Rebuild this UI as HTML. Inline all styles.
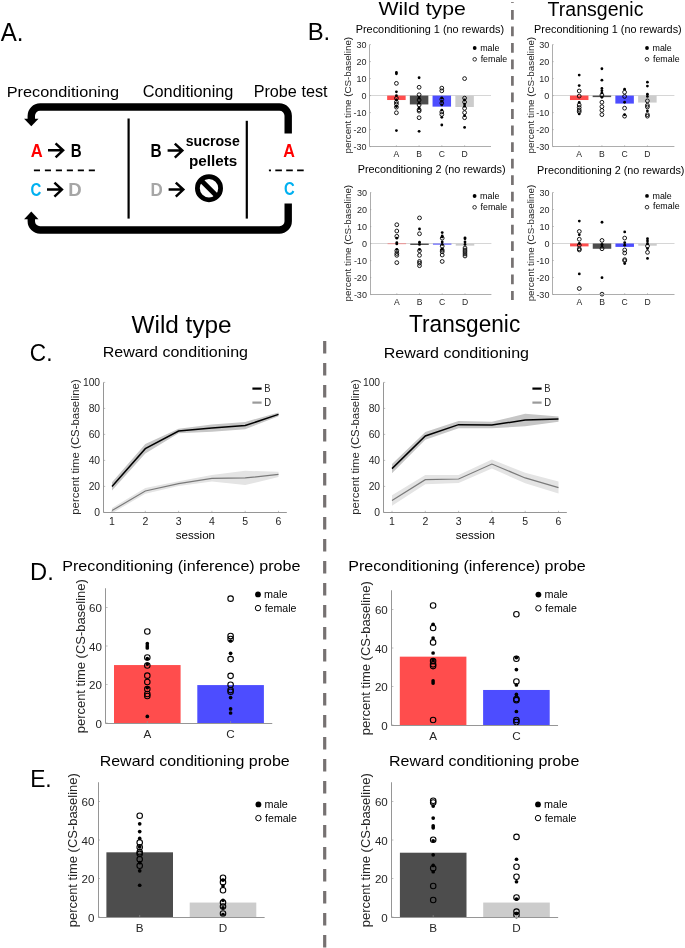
<!DOCTYPE html>
<html><head><meta charset="utf-8"><style>
html,body{margin:0;padding:0;background:#fff;}
svg{display:block;will-change:transform;font-family:"Liberation Sans", sans-serif;}
</style></head><body>
<svg width="685" height="948" viewBox="0 0 685 948">
<rect width="685" height="948" fill="#fff"/>
<text x="0.65" y="40.70" font-size="24.85" fill="#000" textLength="22.75" lengthAdjust="spacingAndGlyphs">A.</text>
<text x="307.64" y="40.00" font-size="23.84" fill="#000" textLength="22.53" lengthAdjust="spacingAndGlyphs">B.</text>
<text x="29.85" y="361.00" font-size="23.55" fill="#000" textLength="22.61" lengthAdjust="spacingAndGlyphs">C.</text>
<text x="30.06" y="579.60" font-size="24.13" fill="#000" textLength="23.71" lengthAdjust="spacingAndGlyphs">D.</text>
<text x="30.13" y="787.00" font-size="24.13" fill="#000" textLength="21.55" lengthAdjust="spacingAndGlyphs">E.</text>
<text x="378.41" y="15.30" font-size="19.04" fill="#000" textLength="87.44" lengthAdjust="spacingAndGlyphs">Wild type</text>
<text x="547.56" y="15.50" font-size="19.33" fill="#000" textLength="95.95" lengthAdjust="spacingAndGlyphs">Transgenic</text>
<text x="131.49" y="333.20" font-size="23.55" fill="#000" textLength="100.19" lengthAdjust="spacingAndGlyphs">Wild type</text>
<text x="409.10" y="332.20" font-size="23.55" fill="#000" textLength="111.10" lengthAdjust="spacingAndGlyphs">Transgenic</text>
<text x="6.66" y="97.00" font-size="15.41" fill="#000" textLength="112.39" lengthAdjust="spacingAndGlyphs">Preconditioning</text>
<text x="142.77" y="97.00" font-size="15.70" fill="#000" textLength="90.68" lengthAdjust="spacingAndGlyphs">Conditioning</text>
<text x="253.67" y="97.00" font-size="15.70" fill="#000" textLength="73.85" lengthAdjust="spacingAndGlyphs">Probe test</text>
<path d="M288.2 133.6 V115.8 A8.8 8.8 0 0 0 279.4 107 H40.1 A8.8 8.8 0 0 0 31.3 115.8 V119.2" fill="none" stroke="#000" stroke-width="7.4"/>
<polygon points="24.1,118.8 38.5,118.8 31.3,126.2" fill="#000"/>
<path d="M288.2 203.6 V221.2 A8.8 8.8 0 0 1 279.4 230 H40.1 A8.8 8.8 0 0 1 31.3 221.2 V218.6" fill="none" stroke="#000" stroke-width="7.4"/>
<polygon points="24.1,219.2 38.5,219.2 31.3,211.6" fill="#000"/>
<line x1="128.6" y1="118.5" x2="128.6" y2="218.6" stroke="#000" stroke-width="2.2"/>
<line x1="246.8" y1="120.8" x2="246.8" y2="218.6" stroke="#000" stroke-width="2.2"/>
<line x1="33.9" y1="170.4" x2="95.2" y2="170.4" stroke="#000" stroke-width="1.8" stroke-dasharray="6.1 4.88"/>
<line x1="268.9" y1="170.4" x2="271" y2="170.4" stroke="#000" stroke-width="1.8"/>
<line x1="275.3" y1="170.4" x2="304" y2="170.4" stroke="#000" stroke-width="1.8" stroke-dasharray="6.6 4.3"/>
<text x="30.69" y="157.20" font-size="17.73" font-weight="bold" fill="#ff0000" textLength="11.95" lengthAdjust="spacingAndGlyphs">A</text>
<text x="70.79" y="157.20" font-size="17.73" font-weight="bold" fill="#000" textLength="10.89" lengthAdjust="spacingAndGlyphs">B</text>
<text x="30.59" y="195.60" font-size="17.73" font-weight="bold" fill="#00b0f0" textLength="10.82" lengthAdjust="spacingAndGlyphs">C</text>
<text x="68.36" y="195.60" font-size="17.73" font-weight="bold" fill="#a6a6a6" textLength="13.42" lengthAdjust="spacingAndGlyphs">D</text>
<text x="150.57" y="157.20" font-size="17.73" font-weight="bold" fill="#000" textLength="11.13" lengthAdjust="spacingAndGlyphs">B</text>
<text x="150.47" y="195.60" font-size="17.73" font-weight="bold" fill="#a6a6a6" textLength="12.25" lengthAdjust="spacingAndGlyphs">D</text>
<text x="283.20" y="157.20" font-size="17.73" font-weight="bold" fill="#ff0000" textLength="11.63" lengthAdjust="spacingAndGlyphs">A</text>
<text x="283.89" y="195.40" font-size="17.73" font-weight="bold" fill="#00b0f0" textLength="10.71" lengthAdjust="spacingAndGlyphs">C</text>
<text x="185.70" y="145.70" font-size="15.20" font-weight="bold" fill="#000" textLength="54.08" lengthAdjust="spacingAndGlyphs">sucrose</text>
<text x="188.99" y="165.60" font-size="15.20" font-weight="bold" fill="#000" textLength="48.33" lengthAdjust="spacingAndGlyphs">pellets</text>
<path d="M48 150.3 H62.8 M55.599999999999994 143.3 L63.099999999999994 150.3 L55.599999999999994 157.3" fill="none" stroke="#000" stroke-width="2.5"/>
<path d="M47 189.6 H61.6 M54.400000000000006 182.6 L61.9 189.6 L54.400000000000006 196.6" fill="none" stroke="#000" stroke-width="2.5"/>
<path d="M167.6 150.6 H182 M174.8 143.6 L182.3 150.6 L174.8 157.6" fill="none" stroke="#000" stroke-width="2.5"/>
<path d="M168.6 189.6 H183 M175.8 182.6 L183.3 189.6 L175.8 196.6" fill="none" stroke="#000" stroke-width="2.5"/>
<circle cx="209" cy="188.2" r="11.6" fill="none" stroke="#000" stroke-width="4.8"/>
<line x1="201" y1="180.2" x2="217" y2="196.2" stroke="#000" stroke-width="4.8"/>
<line x1="512.4" y1="9.9" x2="512.4" y2="300" stroke="#767171" stroke-width="2.7" stroke-dasharray="9.8 6.73"/>
<line x1="512.4" y1="2.0" x2="512.4" y2="3.0" stroke="#8a8585" stroke-width="2.7"/>
<line x1="324.7" y1="340.9" x2="324.7" y2="948" stroke="#767171" stroke-width="3.2" stroke-dasharray="12.6 9.4"/>
<line x1="369.6" y1="95.5" x2="491" y2="95.5" stroke="#d6d6d6" stroke-width="1"/>
<rect x="387.15" y="95.60" width="18.5" height="4.42" fill="#ff4d4d"/>
<rect x="409.85" y="95.60" width="18.5" height="8.84" fill="#4d4d4d"/>
<rect x="432.55" y="95.60" width="18.5" height="11.05" fill="#4d4dff"/>
<rect x="455.35" y="95.60" width="18.5" height="11.39" fill="#cccccc"/>
<circle cx="396.40" cy="72.48" r="1.4" fill="#000"/>
<circle cx="396.40" cy="73.84" r="1.4" fill="#000"/>
<circle cx="396.40" cy="83.36" r="1.9" fill="none" stroke="#000" stroke-width="0.9"/>
<circle cx="396.40" cy="91.86" r="1.4" fill="#000"/>
<circle cx="396.40" cy="95.60" r="1.4" fill="#000"/>
<circle cx="396.40" cy="98.32" r="1.9" fill="none" stroke="#000" stroke-width="0.9"/>
<circle cx="396.40" cy="100.02" r="1.4" fill="#000"/>
<circle cx="396.40" cy="102.06" r="1.9" fill="none" stroke="#000" stroke-width="0.9"/>
<circle cx="396.40" cy="104.10" r="1.9" fill="none" stroke="#000" stroke-width="0.9"/>
<circle cx="396.40" cy="106.48" r="1.4" fill="#000"/>
<circle cx="396.40" cy="107.16" r="1.9" fill="none" stroke="#000" stroke-width="0.9"/>
<circle cx="396.40" cy="112.77" r="1.9" fill="none" stroke="#000" stroke-width="0.9"/>
<circle cx="396.40" cy="130.62" r="1.4" fill="#000"/>
<circle cx="419.10" cy="77.75" r="1.4" fill="#000"/>
<circle cx="419.10" cy="87.27" r="1.9" fill="none" stroke="#000" stroke-width="0.9"/>
<circle cx="419.10" cy="94.75" r="1.9" fill="none" stroke="#000" stroke-width="0.9"/>
<circle cx="419.10" cy="97.98" r="1.4" fill="#000"/>
<circle cx="419.10" cy="100.02" r="1.9" fill="none" stroke="#000" stroke-width="0.9"/>
<circle cx="419.10" cy="103.08" r="1.4" fill="#000"/>
<circle cx="419.10" cy="104.95" r="1.9" fill="none" stroke="#000" stroke-width="0.9"/>
<circle cx="419.10" cy="108.01" r="1.4" fill="#000"/>
<circle cx="419.10" cy="109.71" r="1.9" fill="none" stroke="#000" stroke-width="0.9"/>
<circle cx="419.10" cy="111.07" r="1.9" fill="none" stroke="#000" stroke-width="0.9"/>
<circle cx="419.10" cy="117.70" r="1.9" fill="none" stroke="#000" stroke-width="0.9"/>
<circle cx="419.10" cy="131.30" r="1.4" fill="#000"/>
<circle cx="441.80" cy="88.12" r="1.9" fill="none" stroke="#000" stroke-width="0.9"/>
<circle cx="441.80" cy="90.84" r="1.9" fill="none" stroke="#000" stroke-width="0.9"/>
<circle cx="441.80" cy="97.98" r="1.4" fill="#000"/>
<circle cx="441.80" cy="99.34" r="1.9" fill="none" stroke="#000" stroke-width="0.9"/>
<circle cx="441.80" cy="101.38" r="1.4" fill="#000"/>
<circle cx="441.80" cy="103.08" r="1.9" fill="none" stroke="#000" stroke-width="0.9"/>
<circle cx="441.80" cy="104.95" r="1.4" fill="#000"/>
<circle cx="441.80" cy="110.05" r="1.4" fill="#000"/>
<circle cx="441.80" cy="111.92" r="1.9" fill="none" stroke="#000" stroke-width="0.9"/>
<circle cx="441.80" cy="114.47" r="1.9" fill="none" stroke="#000" stroke-width="0.9"/>
<circle cx="441.80" cy="117.36" r="1.4" fill="#000"/>
<circle cx="441.80" cy="125.01" r="1.4" fill="#000"/>
<circle cx="464.60" cy="78.60" r="1.9" fill="none" stroke="#000" stroke-width="0.9"/>
<circle cx="464.60" cy="98.15" r="1.9" fill="none" stroke="#000" stroke-width="0.9"/>
<circle cx="464.60" cy="100.02" r="1.4" fill="#000"/>
<circle cx="464.60" cy="102.06" r="1.9" fill="none" stroke="#000" stroke-width="0.9"/>
<circle cx="464.60" cy="104.10" r="1.4" fill="#000"/>
<circle cx="464.60" cy="106.14" r="1.4" fill="#000"/>
<circle cx="464.60" cy="108.35" r="1.9" fill="none" stroke="#000" stroke-width="0.9"/>
<circle cx="464.60" cy="112.60" r="1.9" fill="none" stroke="#000" stroke-width="0.9"/>
<circle cx="464.60" cy="115.66" r="1.4" fill="#000"/>
<circle cx="464.60" cy="117.70" r="1.9" fill="none" stroke="#000" stroke-width="0.9"/>
<circle cx="464.60" cy="127.39" r="1.4" fill="#000"/>
<path d="M369.5 44.60 V146.5 H491" fill="none" stroke="#adadad" stroke-width="1"/>
<line x1="369.6" y1="146.60" x2="370.90000000000003" y2="146.60" stroke="#969696" stroke-width="0.6"/>
<text x="366.50" y="149.80" font-size="9.00" fill="#262626" text-anchor="end">-30</text>
<line x1="369.6" y1="129.60" x2="370.90000000000003" y2="129.60" stroke="#969696" stroke-width="0.6"/>
<text x="366.50" y="132.80" font-size="9.00" fill="#262626" text-anchor="end">-20</text>
<line x1="369.6" y1="112.60" x2="370.90000000000003" y2="112.60" stroke="#969696" stroke-width="0.6"/>
<text x="366.50" y="115.80" font-size="9.00" fill="#262626" text-anchor="end">-10</text>
<line x1="369.6" y1="95.60" x2="370.90000000000003" y2="95.60" stroke="#969696" stroke-width="0.6"/>
<text x="366.50" y="98.80" font-size="9.00" fill="#262626" text-anchor="end">0</text>
<line x1="369.6" y1="78.60" x2="370.90000000000003" y2="78.60" stroke="#969696" stroke-width="0.6"/>
<text x="366.50" y="81.80" font-size="9.00" fill="#262626" text-anchor="end">10</text>
<line x1="369.6" y1="61.60" x2="370.90000000000003" y2="61.60" stroke="#969696" stroke-width="0.6"/>
<text x="366.50" y="64.80" font-size="9.00" fill="#262626" text-anchor="end">20</text>
<line x1="369.6" y1="44.60" x2="370.90000000000003" y2="44.60" stroke="#969696" stroke-width="0.6"/>
<text x="366.50" y="47.80" font-size="9.00" fill="#262626" text-anchor="end">30</text>
<line x1="396.40" y1="146.6" x2="396.40" y2="145.29999999999998" stroke="#969696" stroke-width="0.6"/>
<text x="396.40" y="157.40" font-size="8.60" fill="#262626" text-anchor="middle">A</text>
<line x1="419.10" y1="146.6" x2="419.10" y2="145.29999999999998" stroke="#969696" stroke-width="0.6"/>
<text x="419.10" y="157.40" font-size="8.60" fill="#262626" text-anchor="middle">B</text>
<line x1="441.80" y1="146.6" x2="441.80" y2="145.29999999999998" stroke="#969696" stroke-width="0.6"/>
<text x="441.80" y="157.40" font-size="8.60" fill="#262626" text-anchor="middle">C</text>
<line x1="464.60" y1="146.6" x2="464.60" y2="145.29999999999998" stroke="#969696" stroke-width="0.6"/>
<text x="464.60" y="157.40" font-size="8.60" fill="#262626" text-anchor="middle">D</text>
<text x="355.71" y="32.60" font-size="10.17" fill="#000" textLength="148.37" lengthAdjust="spacingAndGlyphs">Preconditioning 1 (no rewards)</text>
<circle cx="474.70" cy="48.00" r="1.9" fill="#000"/>
<circle cx="474.70" cy="59.30" r="1.8" fill="none" stroke="#000" stroke-width="0.8"/>
<text x="480.21" y="50.60" font-size="8.70" fill="#000" textLength="19.29" lengthAdjust="spacingAndGlyphs">male</text>
<text x="480.67" y="61.50" font-size="8.70" fill="#000" textLength="26.62" lengthAdjust="spacingAndGlyphs">female</text>
<text transform="translate(350.90,152.80) rotate(-90)" x="-0.63" y="0" font-size="9.50" fill="#262626" textLength="116.54" lengthAdjust="spacingAndGlyphs">percent time (CS-baseline)</text>
<line x1="370" y1="243.5" x2="491.4" y2="243.5" stroke="#d6d6d6" stroke-width="1"/>
<rect x="387.55" y="243.60" width="18.5" height="0.51" fill="#ff4d4d"/>
<rect x="410.25" y="243.60" width="18.5" height="1.36" fill="#4d4d4d"/>
<rect x="432.95" y="243.60" width="18.5" height="1.02" fill="#4d4dff"/>
<rect x="455.75" y="243.60" width="18.5" height="2.04" fill="#cccccc"/>
<circle cx="396.80" cy="224.73" r="1.9" fill="none" stroke="#000" stroke-width="0.9"/>
<circle cx="396.80" cy="231.02" r="1.9" fill="none" stroke="#000" stroke-width="0.9"/>
<circle cx="396.80" cy="236.29" r="1.9" fill="none" stroke="#000" stroke-width="0.9"/>
<circle cx="396.80" cy="238.16" r="1.4" fill="#000"/>
<circle cx="396.80" cy="242.75" r="1.4" fill="#000"/>
<circle cx="396.80" cy="243.94" r="1.4" fill="#000"/>
<circle cx="396.80" cy="249.38" r="1.4" fill="#000"/>
<circle cx="396.80" cy="250.74" r="1.9" fill="none" stroke="#000" stroke-width="0.9"/>
<circle cx="396.80" cy="253.46" r="1.9" fill="none" stroke="#000" stroke-width="0.9"/>
<circle cx="396.80" cy="255.33" r="1.9" fill="none" stroke="#000" stroke-width="0.9"/>
<circle cx="396.80" cy="262.64" r="1.9" fill="none" stroke="#000" stroke-width="0.9"/>
<circle cx="419.50" cy="217.93" r="1.9" fill="none" stroke="#000" stroke-width="0.9"/>
<circle cx="419.50" cy="228.98" r="1.4" fill="#000"/>
<circle cx="419.50" cy="233.74" r="1.9" fill="none" stroke="#000" stroke-width="0.9"/>
<circle cx="419.50" cy="242.24" r="1.4" fill="#000"/>
<circle cx="419.50" cy="244.45" r="1.4" fill="#000"/>
<circle cx="419.50" cy="249.38" r="1.4" fill="#000"/>
<circle cx="419.50" cy="250.74" r="1.9" fill="none" stroke="#000" stroke-width="0.9"/>
<circle cx="419.50" cy="255.33" r="1.9" fill="none" stroke="#000" stroke-width="0.9"/>
<circle cx="419.50" cy="261.45" r="1.9" fill="none" stroke="#000" stroke-width="0.9"/>
<circle cx="419.50" cy="263.15" r="1.9" fill="none" stroke="#000" stroke-width="0.9"/>
<circle cx="419.50" cy="265.70" r="1.9" fill="none" stroke="#000" stroke-width="0.9"/>
<circle cx="442.20" cy="232.55" r="1.4" fill="#000"/>
<circle cx="442.20" cy="235.95" r="1.4" fill="#000"/>
<circle cx="442.20" cy="236.97" r="1.4" fill="#000"/>
<circle cx="442.20" cy="238.16" r="1.9" fill="none" stroke="#000" stroke-width="0.9"/>
<circle cx="442.20" cy="241.90" r="1.4" fill="#000"/>
<circle cx="442.20" cy="244.45" r="1.4" fill="#000"/>
<circle cx="442.20" cy="246.15" r="1.9" fill="none" stroke="#000" stroke-width="0.9"/>
<circle cx="442.20" cy="249.21" r="1.4" fill="#000"/>
<circle cx="442.20" cy="250.06" r="1.9" fill="none" stroke="#000" stroke-width="0.9"/>
<circle cx="442.20" cy="251.76" r="1.9" fill="none" stroke="#000" stroke-width="0.9"/>
<circle cx="442.20" cy="254.99" r="1.9" fill="none" stroke="#000" stroke-width="0.9"/>
<circle cx="442.20" cy="261.45" r="1.9" fill="none" stroke="#000" stroke-width="0.9"/>
<circle cx="465.00" cy="237.82" r="1.4" fill="#000"/>
<circle cx="465.00" cy="238.84" r="1.4" fill="#000"/>
<circle cx="465.00" cy="241.90" r="1.4" fill="#000"/>
<circle cx="465.00" cy="244.45" r="1.4" fill="#000"/>
<circle cx="465.00" cy="248.02" r="1.9" fill="none" stroke="#000" stroke-width="0.9"/>
<circle cx="465.00" cy="250.06" r="1.9" fill="none" stroke="#000" stroke-width="0.9"/>
<circle cx="465.00" cy="251.93" r="1.9" fill="none" stroke="#000" stroke-width="0.9"/>
<circle cx="465.00" cy="253.97" r="1.9" fill="none" stroke="#000" stroke-width="0.9"/>
<circle cx="465.00" cy="256.01" r="1.9" fill="none" stroke="#000" stroke-width="0.9"/>
<path d="M370.5 192.60 V294.5 H491.4" fill="none" stroke="#adadad" stroke-width="1"/>
<line x1="370" y1="294.60" x2="371.3" y2="294.60" stroke="#969696" stroke-width="0.6"/>
<text x="366.90" y="297.80" font-size="9.00" fill="#262626" text-anchor="end">-30</text>
<line x1="370" y1="277.60" x2="371.3" y2="277.60" stroke="#969696" stroke-width="0.6"/>
<text x="366.90" y="280.80" font-size="9.00" fill="#262626" text-anchor="end">-20</text>
<line x1="370" y1="260.60" x2="371.3" y2="260.60" stroke="#969696" stroke-width="0.6"/>
<text x="366.90" y="263.80" font-size="9.00" fill="#262626" text-anchor="end">-10</text>
<line x1="370" y1="243.60" x2="371.3" y2="243.60" stroke="#969696" stroke-width="0.6"/>
<text x="366.90" y="246.80" font-size="9.00" fill="#262626" text-anchor="end">0</text>
<line x1="370" y1="226.60" x2="371.3" y2="226.60" stroke="#969696" stroke-width="0.6"/>
<text x="366.90" y="229.80" font-size="9.00" fill="#262626" text-anchor="end">10</text>
<line x1="370" y1="209.60" x2="371.3" y2="209.60" stroke="#969696" stroke-width="0.6"/>
<text x="366.90" y="212.80" font-size="9.00" fill="#262626" text-anchor="end">20</text>
<line x1="370" y1="192.60" x2="371.3" y2="192.60" stroke="#969696" stroke-width="0.6"/>
<text x="366.90" y="195.80" font-size="9.00" fill="#262626" text-anchor="end">30</text>
<line x1="396.80" y1="294.6" x2="396.80" y2="293.3" stroke="#969696" stroke-width="0.6"/>
<text x="396.80" y="305.40" font-size="8.60" fill="#262626" text-anchor="middle">A</text>
<line x1="419.50" y1="294.6" x2="419.50" y2="293.3" stroke="#969696" stroke-width="0.6"/>
<text x="419.50" y="305.40" font-size="8.60" fill="#262626" text-anchor="middle">B</text>
<line x1="442.20" y1="294.6" x2="442.20" y2="293.3" stroke="#969696" stroke-width="0.6"/>
<text x="442.20" y="305.40" font-size="8.60" fill="#262626" text-anchor="middle">C</text>
<line x1="465.00" y1="294.6" x2="465.00" y2="293.3" stroke="#969696" stroke-width="0.6"/>
<text x="465.00" y="305.40" font-size="8.60" fill="#262626" text-anchor="middle">D</text>
<text x="357.71" y="172.60" font-size="10.17" fill="#000" textLength="147.97" lengthAdjust="spacingAndGlyphs">Preconditioning 2 (no rewards)</text>
<circle cx="474.60" cy="196.00" r="1.9" fill="#000"/>
<circle cx="474.60" cy="207.30" r="1.8" fill="none" stroke="#000" stroke-width="0.8"/>
<text x="480.11" y="198.60" font-size="8.70" fill="#000" textLength="19.29" lengthAdjust="spacingAndGlyphs">male</text>
<text x="480.57" y="209.50" font-size="8.70" fill="#000" textLength="26.62" lengthAdjust="spacingAndGlyphs">female</text>
<text transform="translate(351.30,300.80) rotate(-90)" x="-0.63" y="0" font-size="9.50" fill="#262626" textLength="116.54" lengthAdjust="spacingAndGlyphs">percent time (CS-baseline)</text>
<line x1="552.4" y1="95.5" x2="674.4" y2="95.5" stroke="#d6d6d6" stroke-width="1"/>
<rect x="569.95" y="95.60" width="18.5" height="4.42" fill="#ff4d4d"/>
<rect x="592.65" y="95.60" width="18.5" height="1.53" fill="#4d4d4d"/>
<rect x="615.35" y="95.60" width="18.5" height="7.99" fill="#4d4dff"/>
<rect x="638.15" y="95.60" width="18.5" height="6.97" fill="#cccccc"/>
<circle cx="579.20" cy="75.03" r="1.4" fill="#000"/>
<circle cx="579.20" cy="85.57" r="1.4" fill="#000"/>
<circle cx="579.20" cy="91.01" r="1.9" fill="none" stroke="#000" stroke-width="0.9"/>
<circle cx="579.20" cy="96.11" r="1.9" fill="none" stroke="#000" stroke-width="0.9"/>
<circle cx="579.20" cy="102.40" r="1.4" fill="#000"/>
<circle cx="579.20" cy="104.95" r="1.9" fill="none" stroke="#000" stroke-width="0.9"/>
<circle cx="579.20" cy="107.50" r="1.9" fill="none" stroke="#000" stroke-width="0.9"/>
<circle cx="579.20" cy="110.05" r="1.9" fill="none" stroke="#000" stroke-width="0.9"/>
<circle cx="579.20" cy="111.75" r="1.9" fill="none" stroke="#000" stroke-width="0.9"/>
<circle cx="579.20" cy="113.96" r="1.4" fill="#000"/>
<circle cx="601.90" cy="68.74" r="1.4" fill="#000"/>
<circle cx="601.90" cy="80.13" r="1.4" fill="#000"/>
<circle cx="601.90" cy="88.46" r="1.4" fill="#000"/>
<circle cx="601.90" cy="90.67" r="1.4" fill="#000"/>
<circle cx="601.90" cy="92.88" r="1.4" fill="#000"/>
<circle cx="601.90" cy="95.09" r="1.9" fill="none" stroke="#000" stroke-width="0.9"/>
<circle cx="601.90" cy="97.30" r="1.4" fill="#000"/>
<circle cx="601.90" cy="102.23" r="1.9" fill="none" stroke="#000" stroke-width="0.9"/>
<circle cx="601.90" cy="106.65" r="1.9" fill="none" stroke="#000" stroke-width="0.9"/>
<circle cx="601.90" cy="110.39" r="1.9" fill="none" stroke="#000" stroke-width="0.9"/>
<circle cx="601.90" cy="114.64" r="1.9" fill="none" stroke="#000" stroke-width="0.9"/>
<circle cx="624.60" cy="89.14" r="1.4" fill="#000"/>
<circle cx="624.60" cy="92.20" r="1.9" fill="none" stroke="#000" stroke-width="0.9"/>
<circle cx="624.60" cy="96.45" r="1.9" fill="none" stroke="#000" stroke-width="0.9"/>
<circle cx="624.60" cy="102.23" r="1.4" fill="#000"/>
<circle cx="624.60" cy="108.18" r="1.9" fill="none" stroke="#000" stroke-width="0.9"/>
<circle cx="624.60" cy="114.64" r="1.4" fill="#000"/>
<circle cx="624.60" cy="116.17" r="1.9" fill="none" stroke="#000" stroke-width="0.9"/>
<circle cx="647.40" cy="82.17" r="1.4" fill="#000"/>
<circle cx="647.40" cy="86.08" r="1.4" fill="#000"/>
<circle cx="647.40" cy="94.24" r="1.4" fill="#000"/>
<circle cx="647.40" cy="96.45" r="1.4" fill="#000"/>
<circle cx="647.40" cy="100.87" r="1.9" fill="none" stroke="#000" stroke-width="0.9"/>
<circle cx="647.40" cy="105.29" r="1.9" fill="none" stroke="#000" stroke-width="0.9"/>
<circle cx="647.40" cy="106.99" r="1.9" fill="none" stroke="#000" stroke-width="0.9"/>
<circle cx="647.40" cy="110.90" r="1.4" fill="#000"/>
<circle cx="647.40" cy="114.64" r="1.9" fill="none" stroke="#000" stroke-width="0.9"/>
<circle cx="647.40" cy="116.17" r="1.9" fill="none" stroke="#000" stroke-width="0.9"/>
<path d="M552.5 44.60 V146.5 H674.4" fill="none" stroke="#adadad" stroke-width="1"/>
<line x1="552.4" y1="146.60" x2="553.6999999999999" y2="146.60" stroke="#969696" stroke-width="0.6"/>
<text x="549.30" y="149.80" font-size="9.00" fill="#262626" text-anchor="end">-30</text>
<line x1="552.4" y1="129.60" x2="553.6999999999999" y2="129.60" stroke="#969696" stroke-width="0.6"/>
<text x="549.30" y="132.80" font-size="9.00" fill="#262626" text-anchor="end">-20</text>
<line x1="552.4" y1="112.60" x2="553.6999999999999" y2="112.60" stroke="#969696" stroke-width="0.6"/>
<text x="549.30" y="115.80" font-size="9.00" fill="#262626" text-anchor="end">-10</text>
<line x1="552.4" y1="95.60" x2="553.6999999999999" y2="95.60" stroke="#969696" stroke-width="0.6"/>
<text x="549.30" y="98.80" font-size="9.00" fill="#262626" text-anchor="end">0</text>
<line x1="552.4" y1="78.60" x2="553.6999999999999" y2="78.60" stroke="#969696" stroke-width="0.6"/>
<text x="549.30" y="81.80" font-size="9.00" fill="#262626" text-anchor="end">10</text>
<line x1="552.4" y1="61.60" x2="553.6999999999999" y2="61.60" stroke="#969696" stroke-width="0.6"/>
<text x="549.30" y="64.80" font-size="9.00" fill="#262626" text-anchor="end">20</text>
<line x1="552.4" y1="44.60" x2="553.6999999999999" y2="44.60" stroke="#969696" stroke-width="0.6"/>
<text x="549.30" y="47.80" font-size="9.00" fill="#262626" text-anchor="end">30</text>
<line x1="579.20" y1="146.6" x2="579.20" y2="145.29999999999998" stroke="#969696" stroke-width="0.6"/>
<text x="579.20" y="157.40" font-size="8.60" fill="#262626" text-anchor="middle">A</text>
<line x1="601.90" y1="146.6" x2="601.90" y2="145.29999999999998" stroke="#969696" stroke-width="0.6"/>
<text x="601.90" y="157.40" font-size="8.60" fill="#262626" text-anchor="middle">B</text>
<line x1="624.60" y1="146.6" x2="624.60" y2="145.29999999999998" stroke="#969696" stroke-width="0.6"/>
<text x="624.60" y="157.40" font-size="8.60" fill="#262626" text-anchor="middle">C</text>
<line x1="647.40" y1="146.6" x2="647.40" y2="145.29999999999998" stroke="#969696" stroke-width="0.6"/>
<text x="647.40" y="157.40" font-size="8.60" fill="#262626" text-anchor="middle">D</text>
<text x="534.11" y="32.60" font-size="10.17" fill="#000" textLength="147.56" lengthAdjust="spacingAndGlyphs">Preconditioning 1 (no rewards)</text>
<circle cx="647.00" cy="48.00" r="1.9" fill="#000"/>
<circle cx="647.00" cy="59.30" r="1.8" fill="none" stroke="#000" stroke-width="0.8"/>
<text x="652.51" y="50.60" font-size="8.70" fill="#000" textLength="19.29" lengthAdjust="spacingAndGlyphs">male</text>
<text x="652.97" y="61.50" font-size="8.70" fill="#000" textLength="26.62" lengthAdjust="spacingAndGlyphs">female</text>
<text transform="translate(533.70,152.80) rotate(-90)" x="-0.63" y="0" font-size="9.50" fill="#262626" textLength="116.54" lengthAdjust="spacingAndGlyphs">percent time (CS-baseline)</text>
<line x1="552.5" y1="243.5" x2="674.5" y2="243.5" stroke="#d6d6d6" stroke-width="1"/>
<rect x="570.05" y="243.50" width="18.5" height="2.89" fill="#ff4d4d"/>
<rect x="592.75" y="243.50" width="18.5" height="5.27" fill="#4d4d4d"/>
<rect x="615.45" y="243.50" width="18.5" height="3.40" fill="#4d4dff"/>
<rect x="638.25" y="243.50" width="18.5" height="2.21" fill="#cccccc"/>
<circle cx="579.30" cy="221.06" r="1.4" fill="#000"/>
<circle cx="579.30" cy="231.43" r="1.9" fill="none" stroke="#000" stroke-width="0.9"/>
<circle cx="579.30" cy="234.83" r="1.4" fill="#000"/>
<circle cx="579.30" cy="239.25" r="1.9" fill="none" stroke="#000" stroke-width="0.9"/>
<circle cx="579.30" cy="243.50" r="1.4" fill="#000"/>
<circle cx="579.30" cy="245.20" r="1.9" fill="none" stroke="#000" stroke-width="0.9"/>
<circle cx="579.30" cy="248.77" r="1.9" fill="none" stroke="#000" stroke-width="0.9"/>
<circle cx="579.30" cy="249.96" r="1.9" fill="none" stroke="#000" stroke-width="0.9"/>
<circle cx="579.30" cy="273.93" r="1.4" fill="#000"/>
<circle cx="579.30" cy="288.55" r="1.9" fill="none" stroke="#000" stroke-width="0.9"/>
<circle cx="602.00" cy="222.25" r="1.4" fill="#000"/>
<circle cx="602.00" cy="240.44" r="1.9" fill="none" stroke="#000" stroke-width="0.9"/>
<circle cx="602.00" cy="244.35" r="1.4" fill="#000"/>
<circle cx="602.00" cy="246.05" r="1.4" fill="#000"/>
<circle cx="602.00" cy="248.77" r="1.9" fill="none" stroke="#000" stroke-width="0.9"/>
<circle cx="602.00" cy="277.67" r="1.4" fill="#000"/>
<circle cx="602.00" cy="294.16" r="1.9" fill="none" stroke="#000" stroke-width="0.9"/>
<circle cx="624.70" cy="231.94" r="1.4" fill="#000"/>
<circle cx="624.70" cy="238.06" r="1.9" fill="none" stroke="#000" stroke-width="0.9"/>
<circle cx="624.70" cy="242.65" r="1.4" fill="#000"/>
<circle cx="624.70" cy="245.20" r="1.4" fill="#000"/>
<circle cx="624.70" cy="249.96" r="1.9" fill="none" stroke="#000" stroke-width="0.9"/>
<circle cx="624.70" cy="253.02" r="1.9" fill="none" stroke="#000" stroke-width="0.9"/>
<circle cx="624.70" cy="259.65" r="1.9" fill="none" stroke="#000" stroke-width="0.9"/>
<circle cx="624.70" cy="260.67" r="1.9" fill="none" stroke="#000" stroke-width="0.9"/>
<circle cx="624.70" cy="263.56" r="1.4" fill="#000"/>
<circle cx="647.50" cy="238.74" r="1.4" fill="#000"/>
<circle cx="647.50" cy="240.95" r="1.4" fill="#000"/>
<circle cx="647.50" cy="243.50" r="1.4" fill="#000"/>
<circle cx="647.50" cy="246.05" r="1.9" fill="none" stroke="#000" stroke-width="0.9"/>
<circle cx="647.50" cy="248.60" r="1.4" fill="#000"/>
<circle cx="647.50" cy="252.34" r="1.9" fill="none" stroke="#000" stroke-width="0.9"/>
<circle cx="647.50" cy="258.46" r="1.4" fill="#000"/>
<path d="M552.5 192.50 V294.5 H674.5" fill="none" stroke="#adadad" stroke-width="1"/>
<line x1="552.5" y1="294.50" x2="553.8" y2="294.50" stroke="#969696" stroke-width="0.6"/>
<text x="549.40" y="297.70" font-size="9.00" fill="#262626" text-anchor="end">-30</text>
<line x1="552.5" y1="277.50" x2="553.8" y2="277.50" stroke="#969696" stroke-width="0.6"/>
<text x="549.40" y="280.70" font-size="9.00" fill="#262626" text-anchor="end">-20</text>
<line x1="552.5" y1="260.50" x2="553.8" y2="260.50" stroke="#969696" stroke-width="0.6"/>
<text x="549.40" y="263.70" font-size="9.00" fill="#262626" text-anchor="end">-10</text>
<line x1="552.5" y1="243.50" x2="553.8" y2="243.50" stroke="#969696" stroke-width="0.6"/>
<text x="549.40" y="246.70" font-size="9.00" fill="#262626" text-anchor="end">0</text>
<line x1="552.5" y1="226.50" x2="553.8" y2="226.50" stroke="#969696" stroke-width="0.6"/>
<text x="549.40" y="229.70" font-size="9.00" fill="#262626" text-anchor="end">10</text>
<line x1="552.5" y1="209.50" x2="553.8" y2="209.50" stroke="#969696" stroke-width="0.6"/>
<text x="549.40" y="212.70" font-size="9.00" fill="#262626" text-anchor="end">20</text>
<line x1="552.5" y1="192.50" x2="553.8" y2="192.50" stroke="#969696" stroke-width="0.6"/>
<text x="549.40" y="195.70" font-size="9.00" fill="#262626" text-anchor="end">30</text>
<line x1="579.30" y1="294.5" x2="579.30" y2="293.2" stroke="#969696" stroke-width="0.6"/>
<text x="579.30" y="305.30" font-size="8.60" fill="#262626" text-anchor="middle">A</text>
<line x1="602.00" y1="294.5" x2="602.00" y2="293.2" stroke="#969696" stroke-width="0.6"/>
<text x="602.00" y="305.30" font-size="8.60" fill="#262626" text-anchor="middle">B</text>
<line x1="624.70" y1="294.5" x2="624.70" y2="293.2" stroke="#969696" stroke-width="0.6"/>
<text x="624.70" y="305.30" font-size="8.60" fill="#262626" text-anchor="middle">C</text>
<line x1="647.50" y1="294.5" x2="647.50" y2="293.2" stroke="#969696" stroke-width="0.6"/>
<text x="647.50" y="305.30" font-size="8.60" fill="#262626" text-anchor="middle">D</text>
<text x="537.11" y="173.60" font-size="10.17" fill="#000" textLength="147.36" lengthAdjust="spacingAndGlyphs">Preconditioning 2 (no rewards)</text>
<circle cx="647.00" cy="195.90" r="1.9" fill="#000"/>
<circle cx="647.00" cy="207.20" r="1.8" fill="none" stroke="#000" stroke-width="0.8"/>
<text x="652.51" y="198.50" font-size="8.70" fill="#000" textLength="19.29" lengthAdjust="spacingAndGlyphs">male</text>
<text x="652.97" y="209.40" font-size="8.70" fill="#000" textLength="26.62" lengthAdjust="spacingAndGlyphs">female</text>
<text transform="translate(533.80,300.70) rotate(-90)" x="-0.63" y="0" font-size="9.50" fill="#262626" textLength="116.54" lengthAdjust="spacingAndGlyphs">percent time (CS-baseline)</text>
<text x="102.68" y="357.00" font-size="15.41" fill="#000" textLength="145.35" lengthAdjust="spacingAndGlyphs">Reward conditioning</text>
<text x="383.68" y="358.00" font-size="15.41" fill="#000" textLength="145.35" lengthAdjust="spacingAndGlyphs">Reward conditioning</text>
<polygon points="112.00,507.98 145.30,488.09 178.60,481.20 211.90,475.09 245.20,470.80 278.50,471.84 278.50,477.04 245.20,485.10 211.90,481.59 178.60,485.88 145.30,493.81 112.00,513.18" fill="#e4e4e4"/>
<polygon points="112.00,482.24 145.30,444.02 178.60,428.68 211.90,424.39 245.20,421.92 278.50,412.43 278.50,416.33 245.20,429.20 211.90,431.67 178.60,433.36 145.30,453.38 112.00,490.56" fill="#c6c6c6"/>
<polyline points="112.00,510.58 145.30,490.95 178.60,483.54 211.90,478.34 245.20,477.95 278.50,474.44" fill="none" stroke="#7a7a7a" stroke-width="1.2"/>
<polyline points="112.00,486.40 145.30,448.70 178.60,431.02 211.90,428.03 245.20,425.56 278.50,414.38" fill="none" stroke="#000" stroke-width="1.5"/>
<path d="M103.5 382.40 V512.5 H286.82" fill="none" stroke="#969696" stroke-width="1"/>
<line x1="103.6" y1="512.40" x2="105.19999999999999" y2="512.40" stroke="#969696" stroke-width="0.6"/>
<text x="100.10" y="516.00" font-size="10.30" fill="#262626" text-anchor="end">0</text>
<line x1="103.6" y1="486.40" x2="105.19999999999999" y2="486.40" stroke="#969696" stroke-width="0.6"/>
<text x="100.10" y="490.00" font-size="10.30" fill="#262626" text-anchor="end">20</text>
<line x1="103.6" y1="460.40" x2="105.19999999999999" y2="460.40" stroke="#969696" stroke-width="0.6"/>
<text x="100.10" y="464.00" font-size="10.30" fill="#262626" text-anchor="end">40</text>
<line x1="103.6" y1="434.40" x2="105.19999999999999" y2="434.40" stroke="#969696" stroke-width="0.6"/>
<text x="100.10" y="438.00" font-size="10.30" fill="#262626" text-anchor="end">60</text>
<line x1="103.6" y1="408.40" x2="105.19999999999999" y2="408.40" stroke="#969696" stroke-width="0.6"/>
<text x="100.10" y="412.00" font-size="10.30" fill="#262626" text-anchor="end">80</text>
<line x1="103.6" y1="382.40" x2="105.19999999999999" y2="382.40" stroke="#969696" stroke-width="0.6"/>
<text x="100.10" y="386.00" font-size="10.30" fill="#262626" text-anchor="end">100</text>
<line x1="112.00" y1="512.4" x2="112.00" y2="510.79999999999995" stroke="#969696" stroke-width="0.6"/>
<text x="112.00" y="524.70" font-size="10.50" fill="#262626" text-anchor="middle">1</text>
<line x1="145.30" y1="512.4" x2="145.30" y2="510.79999999999995" stroke="#969696" stroke-width="0.6"/>
<text x="145.30" y="524.70" font-size="10.50" fill="#262626" text-anchor="middle">2</text>
<line x1="178.60" y1="512.4" x2="178.60" y2="510.79999999999995" stroke="#969696" stroke-width="0.6"/>
<text x="178.60" y="524.70" font-size="10.50" fill="#262626" text-anchor="middle">3</text>
<line x1="211.90" y1="512.4" x2="211.90" y2="510.79999999999995" stroke="#969696" stroke-width="0.6"/>
<text x="211.90" y="524.70" font-size="10.50" fill="#262626" text-anchor="middle">4</text>
<line x1="245.20" y1="512.4" x2="245.20" y2="510.79999999999995" stroke="#969696" stroke-width="0.6"/>
<text x="245.20" y="524.70" font-size="10.50" fill="#262626" text-anchor="middle">5</text>
<line x1="278.50" y1="512.4" x2="278.50" y2="510.79999999999995" stroke="#969696" stroke-width="0.6"/>
<text x="278.50" y="524.70" font-size="10.50" fill="#262626" text-anchor="middle">6</text>
<text x="175.79" y="538.50" font-size="11.60" fill="#000" textLength="39.27" lengthAdjust="spacingAndGlyphs">session</text>
<text transform="translate(78.80,514.00) rotate(-90)" x="-0.73" y="0" font-size="11.60" fill="#262626" textLength="135.44" lengthAdjust="spacingAndGlyphs">percent time (CS-baseline)</text>
<line x1="252.40" y1="388.6" x2="261.60" y2="388.6" stroke="#000" stroke-width="2.2"/>
<line x1="252.40" y1="402.6" x2="261.60" y2="402.6" stroke="#9a9a9a" stroke-width="2.2"/>
<text x="264.23" y="392.30" font-size="10.17" fill="#262626" textLength="6.27" lengthAdjust="spacingAndGlyphs">B</text>
<text x="264.22" y="406.30" font-size="10.17" fill="#262626" textLength="6.83" lengthAdjust="spacingAndGlyphs">D</text>
<polygon points="392.00,495.24 425.30,475.09 458.60,475.09 491.90,459.49 525.20,472.75 558.50,481.59 558.50,493.55 525.20,483.15 491.90,468.59 458.60,482.89 425.30,484.19 392.00,505.64" fill="#e4e4e4"/>
<polygon points="392.00,464.04 425.30,432.06 458.60,421.01 491.90,421.79 525.20,413.86 558.50,416.46 558.50,421.66 525.20,426.34 491.90,428.29 458.60,428.29 425.30,439.86 392.00,473.14" fill="#c6c6c6"/>
<polyline points="392.00,500.44 425.30,479.64 458.60,478.99 491.90,464.04 525.20,477.95 558.50,487.57" fill="none" stroke="#7a7a7a" stroke-width="1.2"/>
<polyline points="392.00,468.59 425.30,435.96 458.60,424.65 491.90,425.04 525.20,420.10 558.50,419.06" fill="none" stroke="#000" stroke-width="1.5"/>
<path d="M383.5 382.40 V512.5 H566.83" fill="none" stroke="#969696" stroke-width="1"/>
<line x1="383.6" y1="512.40" x2="385.20000000000005" y2="512.40" stroke="#969696" stroke-width="0.6"/>
<text x="380.10" y="516.00" font-size="10.30" fill="#262626" text-anchor="end">0</text>
<line x1="383.6" y1="486.40" x2="385.20000000000005" y2="486.40" stroke="#969696" stroke-width="0.6"/>
<text x="380.10" y="490.00" font-size="10.30" fill="#262626" text-anchor="end">20</text>
<line x1="383.6" y1="460.40" x2="385.20000000000005" y2="460.40" stroke="#969696" stroke-width="0.6"/>
<text x="380.10" y="464.00" font-size="10.30" fill="#262626" text-anchor="end">40</text>
<line x1="383.6" y1="434.40" x2="385.20000000000005" y2="434.40" stroke="#969696" stroke-width="0.6"/>
<text x="380.10" y="438.00" font-size="10.30" fill="#262626" text-anchor="end">60</text>
<line x1="383.6" y1="408.40" x2="385.20000000000005" y2="408.40" stroke="#969696" stroke-width="0.6"/>
<text x="380.10" y="412.00" font-size="10.30" fill="#262626" text-anchor="end">80</text>
<line x1="383.6" y1="382.40" x2="385.20000000000005" y2="382.40" stroke="#969696" stroke-width="0.6"/>
<text x="380.10" y="386.00" font-size="10.30" fill="#262626" text-anchor="end">100</text>
<line x1="392.00" y1="512.4" x2="392.00" y2="510.79999999999995" stroke="#969696" stroke-width="0.6"/>
<text x="392.00" y="524.70" font-size="10.50" fill="#262626" text-anchor="middle">1</text>
<line x1="425.30" y1="512.4" x2="425.30" y2="510.79999999999995" stroke="#969696" stroke-width="0.6"/>
<text x="425.30" y="524.70" font-size="10.50" fill="#262626" text-anchor="middle">2</text>
<line x1="458.60" y1="512.4" x2="458.60" y2="510.79999999999995" stroke="#969696" stroke-width="0.6"/>
<text x="458.60" y="524.70" font-size="10.50" fill="#262626" text-anchor="middle">3</text>
<line x1="491.90" y1="512.4" x2="491.90" y2="510.79999999999995" stroke="#969696" stroke-width="0.6"/>
<text x="491.90" y="524.70" font-size="10.50" fill="#262626" text-anchor="middle">4</text>
<line x1="525.20" y1="512.4" x2="525.20" y2="510.79999999999995" stroke="#969696" stroke-width="0.6"/>
<text x="525.20" y="524.70" font-size="10.50" fill="#262626" text-anchor="middle">5</text>
<line x1="558.50" y1="512.4" x2="558.50" y2="510.79999999999995" stroke="#969696" stroke-width="0.6"/>
<text x="558.50" y="524.70" font-size="10.50" fill="#262626" text-anchor="middle">6</text>
<text x="455.79" y="538.50" font-size="11.60" fill="#000" textLength="39.27" lengthAdjust="spacingAndGlyphs">session</text>
<text transform="translate(358.80,514.00) rotate(-90)" x="-0.73" y="0" font-size="11.60" fill="#262626" textLength="135.44" lengthAdjust="spacingAndGlyphs">percent time (CS-baseline)</text>
<line x1="532.40" y1="388.6" x2="541.60" y2="388.6" stroke="#000" stroke-width="2.2"/>
<line x1="532.40" y1="402.6" x2="541.60" y2="402.6" stroke="#9a9a9a" stroke-width="2.2"/>
<text x="544.23" y="392.30" font-size="10.17" fill="#262626" textLength="6.27" lengthAdjust="spacingAndGlyphs">B</text>
<text x="544.22" y="406.30" font-size="10.17" fill="#262626" textLength="6.83" lengthAdjust="spacingAndGlyphs">D</text>
<text x="62.28" y="571.00" font-size="15.41" fill="#000" textLength="238.14" lengthAdjust="spacingAndGlyphs">Preconditioning (inference) probe</text>
<text x="348.28" y="570.60" font-size="15.41" fill="#000" textLength="237.43" lengthAdjust="spacingAndGlyphs">Preconditioning (inference) probe</text>
<text x="99.69" y="766.20" font-size="14.97" fill="#000" textLength="190.02" lengthAdjust="spacingAndGlyphs">Reward conditioning probe</text>
<text x="389.09" y="766.20" font-size="14.97" fill="#000" textLength="190.22" lengthAdjust="spacingAndGlyphs">Reward conditioning probe</text>
<rect x="114.00" y="665.06" width="66.6" height="57.94" fill="#ff4d4d"/>
<rect x="197.30" y="685.08" width="66.6" height="37.92" fill="#4d4dff"/>
<circle cx="147.30" cy="631.56" r="2.75" fill="none" stroke="#000" stroke-width="1.1"/>
<circle cx="147.30" cy="643.69" r="1.85" fill="#000"/>
<circle cx="147.30" cy="646.00" r="1.85" fill="#000"/>
<circle cx="147.30" cy="647.92" r="1.85" fill="#000"/>
<circle cx="147.30" cy="657.55" r="2.75" fill="none" stroke="#000" stroke-width="1.1"/>
<circle cx="147.30" cy="658.71" r="1.85" fill="#000"/>
<circle cx="147.30" cy="664.10" r="1.85" fill="#000"/>
<circle cx="147.30" cy="665.44" r="2.75" fill="none" stroke="#000" stroke-width="1.1"/>
<circle cx="147.30" cy="675.64" r="2.75" fill="none" stroke="#000" stroke-width="1.1"/>
<circle cx="147.30" cy="682.00" r="2.75" fill="none" stroke="#000" stroke-width="1.1"/>
<circle cx="147.30" cy="687.58" r="1.85" fill="#000"/>
<circle cx="147.30" cy="688.93" r="2.75" fill="none" stroke="#000" stroke-width="1.1"/>
<circle cx="147.30" cy="693.93" r="2.75" fill="none" stroke="#000" stroke-width="1.1"/>
<circle cx="147.30" cy="696.05" r="2.75" fill="none" stroke="#000" stroke-width="1.1"/>
<circle cx="147.30" cy="716.46" r="1.85" fill="#000"/>
<circle cx="230.60" cy="598.64" r="2.75" fill="none" stroke="#000" stroke-width="1.1"/>
<circle cx="230.60" cy="635.99" r="2.75" fill="none" stroke="#000" stroke-width="1.1"/>
<circle cx="230.60" cy="639.07" r="2.75" fill="none" stroke="#000" stroke-width="1.1"/>
<circle cx="230.60" cy="641.00" r="1.85" fill="#000"/>
<circle cx="230.60" cy="653.32" r="1.85" fill="#000"/>
<circle cx="230.60" cy="659.09" r="2.75" fill="none" stroke="#000" stroke-width="1.1"/>
<circle cx="230.60" cy="675.84" r="2.75" fill="none" stroke="#000" stroke-width="1.1"/>
<circle cx="230.60" cy="684.69" r="2.75" fill="none" stroke="#000" stroke-width="1.1"/>
<circle cx="230.60" cy="690.08" r="2.75" fill="none" stroke="#000" stroke-width="1.1"/>
<circle cx="230.60" cy="691.82" r="2.75" fill="none" stroke="#000" stroke-width="1.1"/>
<circle cx="230.60" cy="697.59" r="1.85" fill="#000"/>
<circle cx="230.60" cy="708.95" r="1.85" fill="#000"/>
<circle cx="230.60" cy="712.99" r="1.85" fill="#000"/>
<path d="M105.5 588.25 V723.5 H272.25" fill="none" stroke="#969696" stroke-width="1"/>
<line x1="105.6" y1="723.00" x2="107.6" y2="723.00" stroke="#969696" stroke-width="0.6"/>
<text x="102.00" y="727.50" font-size="11.60" fill="#262626" text-anchor="end">0</text>
<line x1="105.6" y1="684.50" x2="107.6" y2="684.50" stroke="#969696" stroke-width="0.6"/>
<text x="102.00" y="689.00" font-size="11.60" fill="#262626" text-anchor="end">20</text>
<line x1="105.6" y1="646.00" x2="107.6" y2="646.00" stroke="#969696" stroke-width="0.6"/>
<text x="102.00" y="650.50" font-size="11.60" fill="#262626" text-anchor="end">40</text>
<line x1="105.6" y1="607.50" x2="107.6" y2="607.50" stroke="#969696" stroke-width="0.6"/>
<text x="102.00" y="612.00" font-size="11.60" fill="#262626" text-anchor="end">60</text>
<line x1="147.30" y1="723" x2="147.30" y2="721" stroke="#969696" stroke-width="0.6"/>
<text x="147.30" y="737.90" font-size="11.70" fill="#262626" text-anchor="middle">A</text>
<line x1="230.60" y1="723" x2="230.60" y2="721" stroke="#969696" stroke-width="0.6"/>
<text x="230.60" y="737.90" font-size="11.70" fill="#262626" text-anchor="middle">C</text>
<text transform="translate(85.00,732.40) rotate(-90)" x="-0.83" y="0" font-size="12.40" fill="#262626" textLength="153.99" lengthAdjust="spacingAndGlyphs">percent time (CS-baseline)</text>
<circle cx="258.00" cy="594.40" r="2.9" fill="#000"/>
<circle cx="258.00" cy="608.10" r="2.7" fill="none" stroke="#000" stroke-width="1.0"/>
<text x="264.08" y="597.50" font-size="10.10" fill="#000" textLength="23.40" lengthAdjust="spacingAndGlyphs">male</text>
<text x="264.65" y="611.50" font-size="10.10" fill="#000" textLength="31.82" lengthAdjust="spacingAndGlyphs">female</text>
<rect x="399.80" y="656.66" width="66.6" height="68.34" fill="#ff4d4d"/>
<rect x="483.10" y="689.97" width="66.6" height="35.03" fill="#4d4dff"/>
<circle cx="433.10" cy="605.46" r="2.75" fill="none" stroke="#000" stroke-width="1.1"/>
<circle cx="433.10" cy="624.32" r="1.85" fill="#000"/>
<circle cx="433.10" cy="627.98" r="2.75" fill="none" stroke="#000" stroke-width="1.1"/>
<circle cx="433.10" cy="637.99" r="1.85" fill="#000"/>
<circle cx="433.10" cy="642.42" r="2.75" fill="none" stroke="#000" stroke-width="1.1"/>
<circle cx="433.10" cy="653.00" r="1.85" fill="#000"/>
<circle cx="433.10" cy="659.93" r="1.85" fill="#000"/>
<circle cx="433.10" cy="661.09" r="2.75" fill="none" stroke="#000" stroke-width="1.1"/>
<circle cx="433.10" cy="664.36" r="2.75" fill="none" stroke="#000" stroke-width="1.1"/>
<circle cx="433.10" cy="666.10" r="2.75" fill="none" stroke="#000" stroke-width="1.1"/>
<circle cx="433.10" cy="680.92" r="1.85" fill="#000"/>
<circle cx="433.10" cy="683.03" r="1.85" fill="#000"/>
<circle cx="433.10" cy="720.00" r="2.75" fill="none" stroke="#000" stroke-width="1.1"/>
<circle cx="516.40" cy="614.31" r="2.75" fill="none" stroke="#000" stroke-width="1.1"/>
<circle cx="516.40" cy="657.62" r="1.85" fill="#000"/>
<circle cx="516.40" cy="658.78" r="2.75" fill="none" stroke="#000" stroke-width="1.1"/>
<circle cx="516.40" cy="669.56" r="1.85" fill="#000"/>
<circle cx="516.40" cy="681.50" r="2.75" fill="none" stroke="#000" stroke-width="1.1"/>
<circle cx="516.40" cy="684.96" r="1.85" fill="#000"/>
<circle cx="516.40" cy="694.39" r="1.85" fill="#000"/>
<circle cx="516.40" cy="699.01" r="2.75" fill="none" stroke="#000" stroke-width="1.1"/>
<circle cx="516.40" cy="700.17" r="2.75" fill="none" stroke="#000" stroke-width="1.1"/>
<circle cx="516.40" cy="711.52" r="1.85" fill="#000"/>
<circle cx="516.40" cy="720.00" r="2.75" fill="none" stroke="#000" stroke-width="1.1"/>
<circle cx="516.40" cy="721.92" r="2.75" fill="none" stroke="#000" stroke-width="1.1"/>
<path d="M391.5 590.25 V725.5 H558.05" fill="none" stroke="#969696" stroke-width="1"/>
<line x1="391.4" y1="725.00" x2="393.4" y2="725.00" stroke="#969696" stroke-width="0.6"/>
<text x="387.80" y="729.50" font-size="11.60" fill="#262626" text-anchor="end">0</text>
<line x1="391.4" y1="686.50" x2="393.4" y2="686.50" stroke="#969696" stroke-width="0.6"/>
<text x="387.80" y="691.00" font-size="11.60" fill="#262626" text-anchor="end">20</text>
<line x1="391.4" y1="648.00" x2="393.4" y2="648.00" stroke="#969696" stroke-width="0.6"/>
<text x="387.80" y="652.50" font-size="11.60" fill="#262626" text-anchor="end">40</text>
<line x1="391.4" y1="609.50" x2="393.4" y2="609.50" stroke="#969696" stroke-width="0.6"/>
<text x="387.80" y="614.00" font-size="11.60" fill="#262626" text-anchor="end">60</text>
<line x1="433.10" y1="725" x2="433.10" y2="723" stroke="#969696" stroke-width="0.6"/>
<text x="433.10" y="739.90" font-size="11.70" fill="#262626" text-anchor="middle">A</text>
<line x1="516.40" y1="725" x2="516.40" y2="723" stroke="#969696" stroke-width="0.6"/>
<text x="516.40" y="739.90" font-size="11.70" fill="#262626" text-anchor="middle">C</text>
<text transform="translate(369.60,734.40) rotate(-90)" x="-0.83" y="0" font-size="12.40" fill="#262626" textLength="153.99" lengthAdjust="spacingAndGlyphs">percent time (CS-baseline)</text>
<circle cx="538.40" cy="594.60" r="2.9" fill="#000"/>
<circle cx="538.40" cy="608.30" r="2.7" fill="none" stroke="#000" stroke-width="1.0"/>
<text x="544.48" y="597.70" font-size="10.10" fill="#000" textLength="23.40" lengthAdjust="spacingAndGlyphs">male</text>
<text x="545.05" y="611.70" font-size="10.10" fill="#000" textLength="31.82" lengthAdjust="spacingAndGlyphs">female</text>
<rect x="106.40" y="852.32" width="66.6" height="64.68" fill="#4d4d4d"/>
<rect x="189.70" y="902.56" width="66.6" height="14.44" fill="#cccccc"/>
<circle cx="139.70" cy="815.75" r="2.75" fill="none" stroke="#000" stroke-width="1.1"/>
<circle cx="139.70" cy="823.83" r="1.85" fill="#000"/>
<circle cx="139.70" cy="831.53" r="1.85" fill="#000"/>
<circle cx="139.70" cy="838.46" r="1.85" fill="#000"/>
<circle cx="139.70" cy="842.50" r="2.75" fill="none" stroke="#000" stroke-width="1.1"/>
<circle cx="139.70" cy="846.93" r="1.85" fill="#000"/>
<circle cx="139.70" cy="847.32" r="2.75" fill="none" stroke="#000" stroke-width="1.1"/>
<circle cx="139.70" cy="852.32" r="2.75" fill="none" stroke="#000" stroke-width="1.1"/>
<circle cx="139.70" cy="853.86" r="2.75" fill="none" stroke="#000" stroke-width="1.1"/>
<circle cx="139.70" cy="859.25" r="2.75" fill="none" stroke="#000" stroke-width="1.1"/>
<circle cx="139.70" cy="862.72" r="1.85" fill="#000"/>
<circle cx="139.70" cy="865.79" r="2.75" fill="none" stroke="#000" stroke-width="1.1"/>
<circle cx="139.70" cy="870.80" r="1.85" fill="#000"/>
<circle cx="139.70" cy="885.24" r="1.85" fill="#000"/>
<circle cx="223.00" cy="877.73" r="2.75" fill="none" stroke="#000" stroke-width="1.1"/>
<circle cx="223.00" cy="880.04" r="1.85" fill="#000"/>
<circle cx="223.00" cy="882.16" r="2.75" fill="none" stroke="#000" stroke-width="1.1"/>
<circle cx="223.00" cy="886.01" r="1.85" fill="#000"/>
<circle cx="223.00" cy="890.24" r="2.75" fill="none" stroke="#000" stroke-width="1.1"/>
<circle cx="223.00" cy="900.25" r="1.85" fill="#000"/>
<circle cx="223.00" cy="902.56" r="2.75" fill="none" stroke="#000" stroke-width="1.1"/>
<circle cx="223.00" cy="906.61" r="2.75" fill="none" stroke="#000" stroke-width="1.1"/>
<circle cx="223.00" cy="907.76" r="1.85" fill="#000"/>
<circle cx="223.00" cy="913.53" r="2.75" fill="none" stroke="#000" stroke-width="1.1"/>
<circle cx="223.00" cy="914.50" r="1.85" fill="#000"/>
<path d="M98.5 782.25 V917.5 H264.65" fill="none" stroke="#969696" stroke-width="1"/>
<line x1="98" y1="917.00" x2="100" y2="917.00" stroke="#969696" stroke-width="0.6"/>
<text x="94.40" y="921.50" font-size="11.60" fill="#262626" text-anchor="end">0</text>
<line x1="98" y1="878.50" x2="100" y2="878.50" stroke="#969696" stroke-width="0.6"/>
<text x="94.40" y="883.00" font-size="11.60" fill="#262626" text-anchor="end">20</text>
<line x1="98" y1="840.00" x2="100" y2="840.00" stroke="#969696" stroke-width="0.6"/>
<text x="94.40" y="844.50" font-size="11.60" fill="#262626" text-anchor="end">40</text>
<line x1="98" y1="801.50" x2="100" y2="801.50" stroke="#969696" stroke-width="0.6"/>
<text x="94.40" y="806.00" font-size="11.60" fill="#262626" text-anchor="end">60</text>
<line x1="139.70" y1="917" x2="139.70" y2="915" stroke="#969696" stroke-width="0.6"/>
<text x="139.70" y="931.90" font-size="11.70" fill="#262626" text-anchor="middle">B</text>
<line x1="223.00" y1="917" x2="223.00" y2="915" stroke="#969696" stroke-width="0.6"/>
<text x="223.00" y="931.90" font-size="11.70" fill="#262626" text-anchor="middle">D</text>
<text transform="translate(76.60,926.40) rotate(-90)" x="-0.83" y="0" font-size="12.40" fill="#262626" textLength="153.99" lengthAdjust="spacingAndGlyphs">percent time (CS-baseline)</text>
<circle cx="258.40" cy="804.40" r="2.9" fill="#000"/>
<circle cx="258.40" cy="818.10" r="2.7" fill="none" stroke="#000" stroke-width="1.0"/>
<text x="264.48" y="807.50" font-size="10.10" fill="#000" textLength="23.40" lengthAdjust="spacingAndGlyphs">male</text>
<text x="265.05" y="821.50" font-size="10.10" fill="#000" textLength="31.82" lengthAdjust="spacingAndGlyphs">female</text>
<rect x="399.90" y="852.71" width="66.6" height="64.30" fill="#4d4d4d"/>
<rect x="483.20" y="902.56" width="66.6" height="14.44" fill="#cccccc"/>
<circle cx="433.20" cy="800.73" r="2.75" fill="none" stroke="#000" stroke-width="1.1"/>
<circle cx="433.20" cy="802.46" r="2.75" fill="none" stroke="#000" stroke-width="1.1"/>
<circle cx="433.20" cy="806.12" r="1.85" fill="#000"/>
<circle cx="433.20" cy="818.06" r="1.85" fill="#000"/>
<circle cx="433.20" cy="825.95" r="1.85" fill="#000"/>
<circle cx="433.20" cy="827.87" r="1.85" fill="#000"/>
<circle cx="433.20" cy="839.81" r="2.75" fill="none" stroke="#000" stroke-width="1.1"/>
<circle cx="433.20" cy="840.77" r="1.85" fill="#000"/>
<circle cx="433.20" cy="854.82" r="1.85" fill="#000"/>
<circle cx="433.20" cy="865.41" r="1.85" fill="#000"/>
<circle cx="433.20" cy="868.30" r="2.75" fill="none" stroke="#000" stroke-width="1.1"/>
<circle cx="433.20" cy="871.76" r="1.85" fill="#000"/>
<circle cx="433.20" cy="886.01" r="2.75" fill="none" stroke="#000" stroke-width="1.1"/>
<circle cx="433.20" cy="900.06" r="2.75" fill="none" stroke="#000" stroke-width="1.1"/>
<circle cx="516.50" cy="836.92" r="2.75" fill="none" stroke="#000" stroke-width="1.1"/>
<circle cx="516.50" cy="859.25" r="1.85" fill="#000"/>
<circle cx="516.50" cy="866.76" r="2.75" fill="none" stroke="#000" stroke-width="1.1"/>
<circle cx="516.50" cy="876.77" r="2.75" fill="none" stroke="#000" stroke-width="1.1"/>
<circle cx="516.50" cy="881.77" r="1.85" fill="#000"/>
<circle cx="516.50" cy="897.56" r="2.75" fill="none" stroke="#000" stroke-width="1.1"/>
<circle cx="516.50" cy="899.10" r="1.85" fill="#000"/>
<circle cx="516.50" cy="911.61" r="2.75" fill="none" stroke="#000" stroke-width="1.1"/>
<circle cx="516.50" cy="913.53" r="1.85" fill="#000"/>
<circle cx="516.50" cy="915.08" r="2.75" fill="none" stroke="#000" stroke-width="1.1"/>
<path d="M391.5 782.25 V917.5 H558.15" fill="none" stroke="#969696" stroke-width="1"/>
<line x1="391.4" y1="917.00" x2="393.4" y2="917.00" stroke="#969696" stroke-width="0.6"/>
<text x="387.80" y="921.50" font-size="11.60" fill="#262626" text-anchor="end">0</text>
<line x1="391.4" y1="878.50" x2="393.4" y2="878.50" stroke="#969696" stroke-width="0.6"/>
<text x="387.80" y="883.00" font-size="11.60" fill="#262626" text-anchor="end">20</text>
<line x1="391.4" y1="840.00" x2="393.4" y2="840.00" stroke="#969696" stroke-width="0.6"/>
<text x="387.80" y="844.50" font-size="11.60" fill="#262626" text-anchor="end">40</text>
<line x1="391.4" y1="801.50" x2="393.4" y2="801.50" stroke="#969696" stroke-width="0.6"/>
<text x="387.80" y="806.00" font-size="11.60" fill="#262626" text-anchor="end">60</text>
<line x1="433.20" y1="917" x2="433.20" y2="915" stroke="#969696" stroke-width="0.6"/>
<text x="433.20" y="931.90" font-size="11.70" fill="#262626" text-anchor="middle">B</text>
<line x1="516.50" y1="917" x2="516.50" y2="915" stroke="#969696" stroke-width="0.6"/>
<text x="516.50" y="931.90" font-size="11.70" fill="#262626" text-anchor="middle">D</text>
<text transform="translate(369.60,926.40) rotate(-90)" x="-0.83" y="0" font-size="12.40" fill="#262626" textLength="153.99" lengthAdjust="spacingAndGlyphs">percent time (CS-baseline)</text>
<circle cx="538.00" cy="804.40" r="2.9" fill="#000"/>
<circle cx="538.00" cy="818.10" r="2.7" fill="none" stroke="#000" stroke-width="1.0"/>
<text x="544.08" y="807.50" font-size="10.10" fill="#000" textLength="23.40" lengthAdjust="spacingAndGlyphs">male</text>
<text x="544.65" y="821.50" font-size="10.10" fill="#000" textLength="31.82" lengthAdjust="spacingAndGlyphs">female</text>
</svg></body></html>
